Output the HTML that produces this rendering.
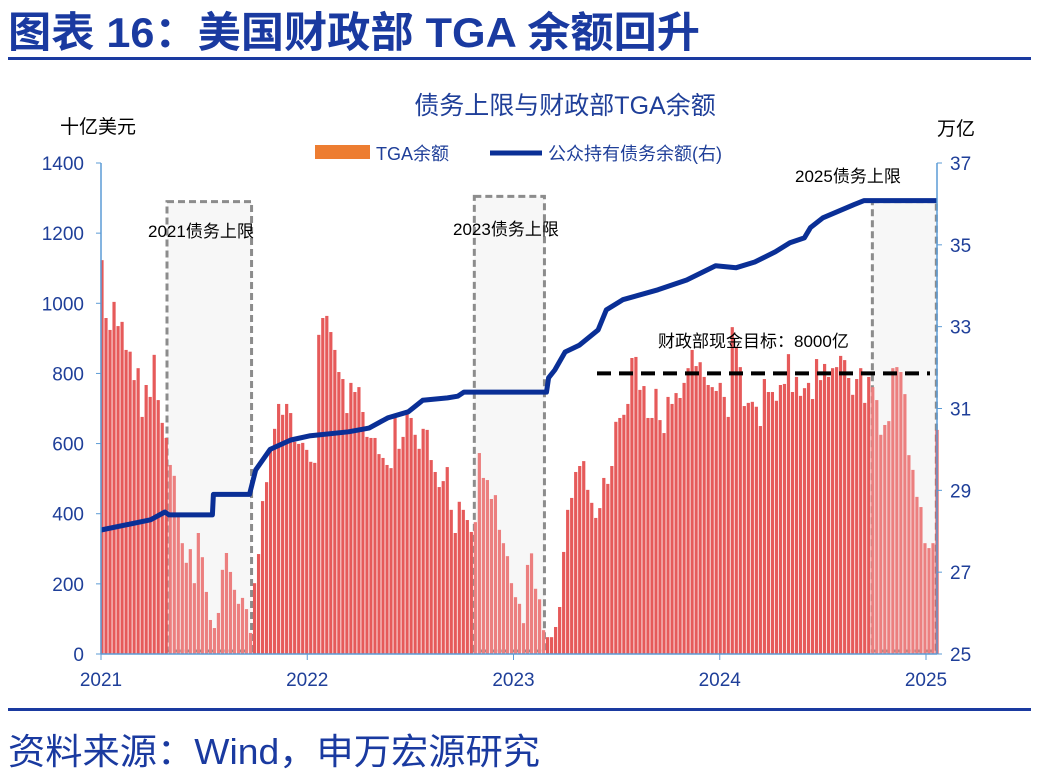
<!DOCTYPE html>
<html><head><meta charset="utf-8"><style>
body{margin:0;background:#fff;width:1039px;height:775px;overflow:hidden;font-family:"Liberation Sans","Noto Sans CJK SC",sans-serif}
</style></head><body>
<svg width="1039" height="775" xmlns="http://www.w3.org/2000/svg" font-family="Liberation Sans, Noto Sans CJK SC, sans-serif">
<text x="8" y="47" font-size="42" font-weight="bold" fill="#1a3aa0" textLength="692" lengthAdjust="spacingAndGlyphs">图表 16：美国财政部 TGA 余额回升</text>
<rect x="8" y="57" width="1023" height="3" fill="#1a3aa0"/>
<text x="565" y="114" font-size="25" fill="#1f3f99" text-anchor="middle">债务上限与财政部TGA余额</text>
<text x="60" y="133" font-size="19" fill="#000">十亿美元</text>
<text x="937" y="135" font-size="19" fill="#000">万亿</text>
<g>
<rect x="315" y="145" width="55" height="14" fill="#ed7d31"/>
<text x="376" y="160" font-size="18" fill="#1f3f99">TGA余额</text>
<line x1="490" y1="153" x2="542" y2="153" stroke="#0a2f96" stroke-width="5"/>
<text x="548" y="160" font-size="18" fill="#1f3f99">公众持有债务余额(右)</text>
</g>
<g id="plot"></g>
<rect x="8" y="708" width="1023" height="3" fill="#1a3aa0"/>
<text x="8" y="764" font-size="36" fill="#1a3aa0" textLength="532" lengthAdjust="spacingAndGlyphs">资料来源：Wind，申万宏源研究</text>
</svg>
<script>
const tga=[1123,958,924,1004,935,947,867,862,781,815,676,767,733,853,724,659,616,539,508,391,316,260,299,202,345,276,177,97,74,117,240,288,234,183,143,160,128,60,202,285,436,490,582,642,713,682,713,687,605,599,602,582,548,
545,910,958,964,918,867,804,784,687,773,747,761,690,619,616,616,570,559,539,530,676,585,619,693,673,625,585,642,639,553,519,476,493,533,411,345,434,411,382,348,376,573,502,496,442,453,354,316,279,202,162,143,
88,254,287,186,156,68,48,48,77,134,291,411,445,519,536,550,468,431,388,416,502,485,536,662,673,682,713,844,847,753,764,673,673,756,667,630,733,713,744,730,773,815,867,821,832,790,767,761,750,773,733,676,932,
876,818,707,716,719,705,650,784,747,747,722,767,770,855,747,790,736,758,773,727,841,781,827,790,815,818,850,838,787,739,784,815,716,790,761,724,625,653,664,815,818,804,741,567,525,448,419,316,302,316,639];
const debtYears=[2021,2021.24,2021.31,2021.33,2021.54,2021.545,2021.72,2021.75,2021.82,2021.92,2022.01,2022.2,2022.3,2022.39,2022.49,2022.56,2022.68,2022.73,2022.76,2023.16,2023.17,2023.2,2023.25,2023.32,2023.41,2023.45,2023.53,2023.7,2023.84,2023.98,2024.08,2024.17,2024.27,2024.34,2024.41,2024.44,2024.5,2024.65,2024.7,2025.055];
const debtVals=[28.03,28.28,28.47,28.4,28.4,28.9,28.9,29.5,30.0,30.23,30.33,30.43,30.52,30.77,30.92,31.2,31.26,31.3,31.4,31.4,31.75,31.94,32.38,32.55,32.92,33.41,33.66,33.9,34.14,34.49,34.44,34.58,34.83,35.05,35.17,35.42,35.66,35.98,36.08,36.08];
const leftTicks=[0,200,400,600,800,1000,1200,1400];
const rightTicks=[25,27,29,31,33,35,37];
const yearTicks=[2021,2022,2023,2024,2025];
const shades=[[2021.32,2021.73,1290,'2021债务上限'],[2022.81,2023.15,1305,'2023债务上限'],[2024.74,2025.05,1290,'2025债务上限']];
const target=800;
const NS="http://www.w3.org/2000/svg";
const g=document.getElementById('plot');
const yL=v=>654-v*491/1400, yR=v=>654-(v-25)*491/12, xY=y=>101+(y-2021)*206.25;
const barX=i=>102+i*(835/(tga.length-1));
function mk(t,a){const e=document.createElementNS(NS,t);for(const k in a)e.setAttribute(k,a[k]);g.appendChild(e);return e;}
shades.forEach((s,k)=>{const x1=xY(s[0]),x2=xY(s[1]);
const r=mk('rect',{x:x1,y:yL(s[2]),width:x2-x1,height:654-yL(s[2])-3,fill:'#f7f7f7',stroke:'#8c8c8c','stroke-width':3,'stroke-dasharray':'7,4'});

});
tga.forEach((v,i)=>{const x=barX(i);
const inShade=shades.some(s=>x>=xY(s[0])&&x<=xY(s[1]));
const r=mk('rect',{x:x-1.6,y:yL(v),width:3.2,height:654-yL(v),fill:inShade?'#ec7f7f':'#e65a5a'});

});
shades.forEach((s,k)=>{const pos=[[148,237],[453,235],[795,182]][k];
const t=mk('text',{x:pos[0],y:pos[1],'font-size':17,fill:'#000'});t.textContent=s[3];

});
const tl=mk('line',{x1:597,x2:930,y1:yL(target),y2:yL(target),stroke:'#000','stroke-width':4,'stroke-dasharray':'14,8'});


const tt=mk('text',{x:658,y:347,'font-size':17,fill:'#000'});tt.textContent='财政部现金目标：8000亿';


const pts=debtYears.map((y,i)=>xY(y).toFixed(1)+','+yR(debtVals[i]).toFixed(1)).join(' ');
const pl=mk('polyline',{points:pts,fill:'none',stroke:'#0a2f96','stroke-width':5,'stroke-linejoin':'round'});


const ax=[[101,163,101,654],[937,163,937,654],[101,654,937,654]];
ax.forEach((a,k)=>{const l=mk('line',{x1:a[0],y1:a[1],x2:a[2],y2:a[3],stroke:'#5b9bd5','stroke-width':1.5});

});
leftTicks.forEach(v=>{const y=yL(v);
const l=mk('line',{x1:96,x2:101,y1:y,y2:y,stroke:'#5b9bd5'});
const t=mk('text',{x:84,y:y+7,'font-size':19,fill:'#1f3f99','text-anchor':'end'});t.textContent=v;

});
rightTicks.forEach(v=>{const y=yR(v);
const l=mk('line',{x1:937,x2:942,y1:y,y2:y,stroke:'#5b9bd5'});
const t=mk('text',{x:950,y:y+7,'font-size':19,fill:'#1f3f99'});t.textContent=v;

});
yearTicks.forEach(v=>{const x=xY(v);
const l=mk('line',{x1:x,x2:x,y1:654,y2:660,stroke:'#5b9bd5'});
const t=mk('text',{x:x,y:686,'font-size':19,fill:'#1f3f99','text-anchor':'middle'});t.textContent=v;

});
</script>
</body></html>
